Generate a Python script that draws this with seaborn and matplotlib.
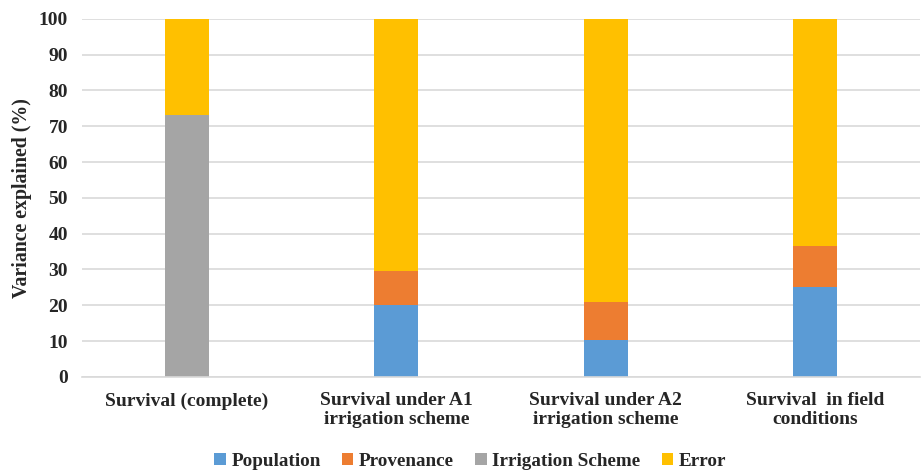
import matplotlib
matplotlib.use("Agg")
import matplotlib.pyplot as plt
import seaborn as sns
import pandas as pd
import numpy as np
from matplotlib.patches import Patch

categories = ["Survival (complete)", "Survival under A1\nirrigation scheme",
              "Survival under A2\nirrigation scheme", "Survival  in field\nconditions"]
population = [0.0, 20.2, 10.3, 25.2]
provenance = [0.0, 9.5, 10.6, 11.5]
irrigation = [73.0, 0.0, 0.0, 0.0]
error = [27.0, 70.3, 79.1, 63.3]

series_names = ["Population", "Provenance", "Irrigation Scheme", "Error"]
series_values = [population, provenance, irrigation, error]
colors = ["#5B9BD5", "#ED7D31", "#A5A5A5", "#FFC000"]

sns.set_theme(style="white")
plt.rcParams["font.family"] = ["Liberation Serif", "DejaVu Serif"]
plt.rcParams["font.weight"] = "bold"

fig = plt.figure(figsize=(9.22, 4.70), dpi=100)
ax = fig.add_axes([0.089, 0.198, 0.909, 0.762])

# stacked bars drawn as cumulative totals, tallest first
cum = np.cumsum(np.array(series_values), axis=0)
for i in range(len(series_names) - 1, -1, -1):
    df = pd.DataFrame({"cat": categories, "val": cum[i]})
    sns.barplot(data=df, x="cat", y="val", color=colors[i], width=0.21,
                saturation=1, ax=ax, linewidth=0, order=categories)

ax.set_ylim(0, 100)
ax.set_xlim(-0.5, 3.5)
ax.set_yticks(range(0, 101, 10))
ax.yaxis.grid(True, color="#D9D9D9", linewidth=1.2)
ax.set_axisbelow(True)
for s in ["top", "right", "left"]:
    ax.spines[s].set_visible(False)
ax.spines["bottom"].set_color("#D9D9D9")
ax.spines["bottom"].set_linewidth(1.2)
ax.tick_params(axis="y", length=0, labelsize=14, pad=10)
ax.tick_params(axis="x", length=0, labelsize=14, pad=11)
for lab in ax.get_xticklabels() + ax.get_yticklabels():
    lab.set_fontweight("bold")
    lab.set_linespacing(1.1)
ax.set_xlabel("")
ax.set_ylabel("Variance explained (%)", fontsize=14.3, fontweight="bold", labelpad=5)

handles = [Patch(facecolor=c, edgecolor="none") for c in colors]
fig.legend(handles, series_names, loc="center", bbox_to_anchor=(0.51, 0.018),
           ncol=4, frameon=False, prop={"weight": "bold", "size": 13.8},
           handlelength=0.6, handleheight=0.6, handletextpad=0.3, columnspacing=1.1)

fig.savefig("out.png", dpi=100)
